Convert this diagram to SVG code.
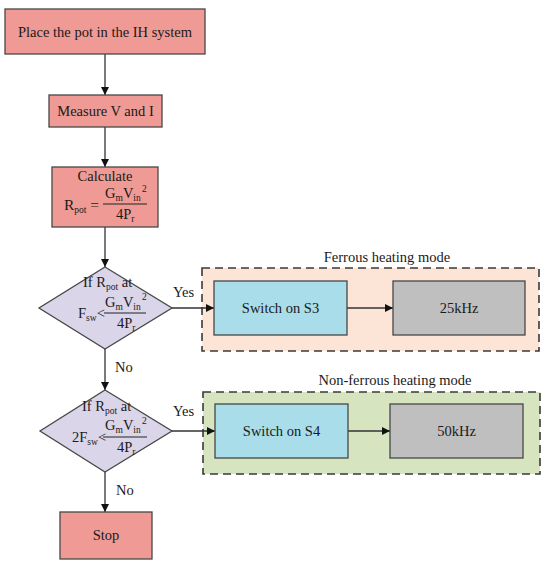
<svg xmlns="http://www.w3.org/2000/svg" width="550" height="569" viewBox="0 0 550 569">
<style>
text{font-family:"Liberation Serif","Times New Roman",serif;fill:#1a1a1a;font-size:14.5px}
.proc{fill:#EF9A94;stroke:#474747;stroke-width:1.3}
.dec{fill:#DAD5E8;stroke:#474747;stroke-width:1.3}
.sw{fill:#A8DDE9;stroke:#474747;stroke-width:1.3}
.fq{fill:#BFBFBF;stroke:#474747;stroke-width:1.3}
.grp{stroke:#3a3a3a;stroke-width:1.6;stroke-dasharray:8,5}
.c{text-anchor:middle}
.sub{font-size:9.5px}
.f{font-size:14.5px}
.ln{stroke:#222;stroke-width:1}
.con{stroke:#333;stroke-width:1.3;fill:none;marker-end:url(#ah)}
</style>
<defs>
<marker id="ah" viewBox="0 0 10 10" refX="10" refY="5" markerWidth="8" markerHeight="8" markerUnits="userSpaceOnUse" orient="auto">
<path d="M0,0L10,5L0,10z" fill="#111"/>
</marker>
</defs>
<rect width="550" height="569" fill="#fff"/>
<g id="ferrous-group">
<rect class="grp" x="202" y="268" width="337" height="83" fill="#FCE5D6"/>
<text class="c" x="387" y="262">Ferrous heating mode</text>
</g>
<g id="nonferrous-group">
<rect class="grp" x="203" y="392" width="337" height="82" fill="#D6E4BF"/>
<text class="c" x="395" y="385">Non-ferrous heating mode</text>
</g>
<g id="connectors">
<line class="con" x1="105" y1="54" x2="105" y2="95"/>
<line class="con" x1="105" y1="127" x2="105" y2="167"/>
<line class="con" x1="105" y1="227" x2="105" y2="267"/>
<line class="con" x1="105" y1="349" x2="105" y2="390"/>
<line class="con" x1="105" y1="472" x2="105" y2="512"/>
<line class="con" x1="172" y1="308" x2="214" y2="308"/>
<line class="con" x1="172" y1="431" x2="215" y2="431"/>
<line class="con" x1="347" y1="308" x2="393" y2="308"/>
<line class="con" x1="348" y1="431" x2="390" y2="431"/>
<text x="173" y="297">Yes</text>
<text x="173" y="416">Yes</text>
<text x="115" y="372">No</text>
<text x="116" y="495">No</text>
</g>
<g id="start">
<rect class="proc" x="5" y="9" width="200" height="45"/>
<text class="c" x="105" y="36.5">Place the pot in the IH system</text>
</g>
<g id="measure">
<rect class="proc" x="49" y="95" width="113" height="32"/>
<text class="c" x="105.5" y="116">Measure V and I</text>
</g>
<g id="calculate">
<rect class="proc" x="52" y="167" width="106" height="60"/>
<text class="c" x="105" y="181">Calculate</text>
<text x="64" y="210" style="font-size:15.5px">R<tspan class="sub" dy="3">pot</tspan><tspan dy="-3"> =</tspan></text>
<text class="f" x="105" y="198">G<tspan class="sub" dy="3">m</tspan><tspan dy="-3">V</tspan><tspan class="sub" dy="3">in</tspan></text>
<text class="sub" x="142" y="192">2</text>
<line class="ln" x1="103" y1="204" x2="147" y2="204"/>
<text class="f" x="116" y="219">4P<tspan class="sub" dy="3">r</tspan></text>
</g>
<g id="decision1">
<polygon class="dec" points="105,267 172,308 105,349 39,308"/>
<text class="f" x="83" y="287">If R<tspan class="sub" dy="3">pot</tspan><tspan dy="-3"> at</tspan></text>
<text class="f" x="78" y="318">F<tspan class="sub" dy="3">sw</tspan><tspan dy="-3">&lt;</tspan></text>
<text class="f" x="105" y="307">G<tspan class="sub" dy="3">m</tspan><tspan dy="-3">V</tspan><tspan class="sub" dy="3">in</tspan></text>
<text class="sub" x="142" y="300">2</text>
<line class="ln" x1="104" y1="313" x2="146" y2="313"/>
<text class="f" x="117" y="328">4P<tspan class="sub" dy="3">r</tspan></text>
</g>
<g id="decision2">
<polygon class="dec" points="105,390 172,431 105,472 40,431"/>
<text class="f" x="82" y="411">If R<tspan class="sub" dy="3">pot</tspan><tspan dy="-3"> at</tspan></text>
<text class="f" x="72" y="442">2F<tspan class="sub" dy="3">sw</tspan><tspan dy="-3">&lt;</tspan></text>
<text class="f" x="105" y="430">G<tspan class="sub" dy="3">m</tspan><tspan dy="-3">V</tspan><tspan class="sub" dy="3">in</tspan></text>
<text class="sub" x="142" y="424">2</text>
<line class="ln" x1="103" y1="437" x2="147" y2="437"/>
<text class="f" x="117" y="452">4P<tspan class="sub" dy="3">r</tspan></text>
</g>
<g id="stop">
<rect class="proc" x="60" y="512" width="92" height="47"/>
<text class="c" x="106" y="540">Stop</text>
</g>
<g id="switch-s3">
<rect class="sw" x="214" y="281" width="133" height="54"/>
<text class="c" x="280.5" y="313">Switch on S3</text>
</g>
<g id="f25">
<rect class="fq" x="393" y="281" width="132" height="54"/>
<text class="c" x="459" y="313">25kHz</text>
</g>
<g id="switch-s4">
<rect class="sw" x="215" y="404" width="133" height="54"/>
<text class="c" x="281.5" y="436">Switch on S4</text>
</g>
<g id="f50">
<rect class="fq" x="390" y="404" width="133" height="54"/>
<text class="c" x="456.5" y="436">50kHz</text>
</g>
</svg>
